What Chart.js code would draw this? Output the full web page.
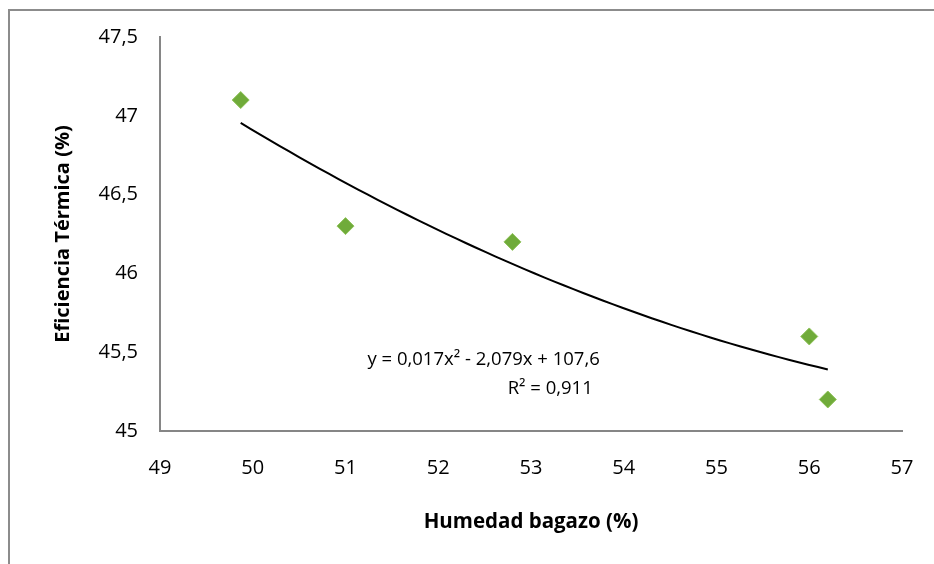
<!DOCTYPE html>
<html>
<head>
<meta charset="utf-8">
<script src="https://cdn.jsdelivr.net/npm/chart.js@4.4.0/dist/chart.umd.min.js"></script>
<style>
  html, body { margin: 0; padding: 0; background: #fff; }
  #wrap { position: relative; width: 934px; height: 564px; overflow: hidden; }
  #frame { position: absolute; left: 8px; top: 9px; width: 2000px; height: 2000px;
           border-left: 2px solid #8c8c8c; border-top: 2px solid #8c8c8c; }
  canvas { position: absolute; left: 0; top: 0; }
</style>
</head>
<body>
<div id="wrap">
  <div id="frame"></div>
  <canvas id="c" width="934" height="564"></canvas>
</div>
<script>
// Data
const humedad   = [49.87, 51.0, 52.8, 56.0, 56.2];
const eficiencia = [47.1, 46.3, 46.2, 45.6, 45.2];
const xTicks = [49, 50, 51, 52, 53, 54, 55, 56, 57];
const yTicks = [45, 45.5, 46, 46.5, 47, 47.5];
const eqLine1 = 'y = 0,017x² - 2,079x + 107,6';
const eqLine2 = 'R² = 0,911';
const xTitle = 'Humedad bagazo (%)';
const yTitle = 'Eficiencia Térmica (%)';

// Polynomial (order 2) least-squares trendline computed from the data
function quadFit(xs, ys) {
  let s = [0,0,0,0,0], t = [0,0,0];
  for (let i = 0; i < xs.length; i++) {
    let p = 1;
    for (let k = 0; k < 5; k++) { s[k] += p; if (k < 3) t[k] += p * ys[i]; p *= xs[i]; }
  }
  const A = [[s[0], s[1], s[2], t[0]], [s[1], s[2], s[3], t[1]], [s[2], s[3], s[4], t[2]]];
  for (let i = 0; i < 3; i++) {
    for (let j = i + 1; j < 3; j++) {
      const f = A[j][i] / A[i][i];
      for (let k = i; k < 4; k++) A[j][k] -= f * A[i][k];
    }
  }
  const c = [0,0,0];
  for (let i = 2; i >= 0; i--) {
    let v = A[i][3];
    for (let k = i + 1; k < 3; k++) v -= A[i][k] * c[k];
    c[i] = v / A[i][i];
  }
  return c; // c0 + c1 x + c2 x^2
}
const coef = quadFit(humedad, eficiencia);
const xMin = Math.min(...humedad), xMax = Math.max(...humedad);
const trend = [];
for (let i = 0; i <= 60; i++) {
  const x = xMin + (xMax - xMin) * i / 60;
  trend.push({ x, y: coef[0] + coef[1] * x + coef[2] * x * x });
}
const points = humedad.map((x, i) => ({ x, y: eficiencia[i] }));

const FONT = "'Open Sans', 'DejaVu Sans', sans-serif";

const eqPlugin = {
  id: 'eq',
  afterDatasetsDraw(chart) {
    const { ctx, scales } = chart;
    const xr = scales.x.getPixelForValue(53.72);
    ctx.save();
    ctx.fillStyle = '#000';
    ctx.textAlign = 'right';
    ctx.textBaseline = 'middle';
    ctx.font = "18.5px " + FONT;
    ctx.fillText(eqLine1, xr + 2, scales.y.getPixelForValue(45.45));
    ctx.fillText(eqLine2, xr - 5, scales.y.getPixelForValue(45.27));
    ctx.restore();
  }
};

const ctx = document.getElementById('c').getContext('2d');
new Chart(ctx, {
  type: 'scatter',
  data: {
    datasets: [
      {
        label: 'Eficiencia',
        data: points,
        pointStyle: 'rectRot',
        pointRadius: 8.5,
        pointHoverRadius: 8.5,
        backgroundColor: '#70ab3a',
        borderColor: '#8fc25a',
        borderWidth: 1,
        order: 1
      },
      {
        label: 'Tendencia',
        data: trend,
        type: 'line',
        showLine: true,
        borderColor: '#000',
        borderWidth: 2,
        pointRadius: 0,
        fill: false,
        tension: 0,
        order: 2
      }
    ]
  },
  options: {
    responsive: false,
    animation: false,
    devicePixelRatio: 1,
    layout: { padding: { left: 40, top: 37, right: 32, bottom: 25 } },
    plugins: { legend: { display: false }, tooltip: { enabled: false } },
    scales: {
      x: {
        type: 'linear',
        min: 49, max: 57,
        afterBuildTicks(s) { s.ticks = xTicks.map(v => ({ value: v })); },
        afterFit(s) { s.height = 108; },
        grid: { display: false, drawOnChartArea: false, drawTicks: true, tickLength: 6, tickColor: '#868686' },
        border: { display: true, color: '#868686', width: 2 },
        ticks: { color: '#000', font: { family: FONT, size: 20 }, padding: 19, maxRotation: 0,
                 callback: v => String(v) },
        title: { display: true, text: xTitle, color: '#000', font: { family: FONT, size: 20.5, weight: 'bold' }, padding: 5 }
      },
      y: {
        type: 'linear',
        min: 45, max: 47.5,
        afterBuildTicks(s) { s.ticks = yTicks.map(v => ({ value: v })); },
        afterFit(s) { s.width = 120; },
        grid: { display: false, drawOnChartArea: false, drawTicks: true, tickLength: 6, tickColor: '#868686' },
        border: { display: true, color: '#868686', width: 2 },
        ticks: { color: '#000', font: { family: FONT, size: 20 }, padding: 16,
                 callback: v => String(v).replace('.', ',') },
        title: { display: true, text: yTitle, color: '#000', font: { family: FONT, size: 20, weight: 'bold' }, padding: 11 }
      }
    }
  },
  plugins: [eqPlugin]
});
</script>
</body>
</html>
